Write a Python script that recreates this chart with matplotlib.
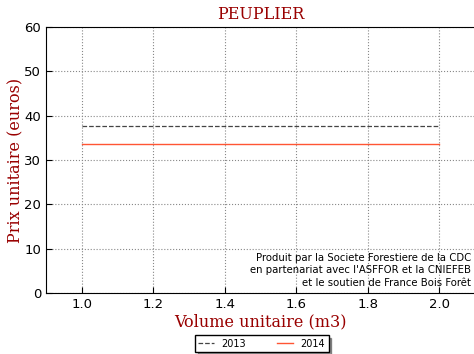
import matplotlib
matplotlib.use("Agg")
import matplotlib.pyplot as plt

volumes = [1.0, 2.0]
prix_2013 = [37.6, 37.6]
prix_2014 = [33.5, 33.5]
annees = ["2013", "2014"]

red = "#990000"

fig = plt.figure(figsize=(4.74, 3.54), dpi=100)
ax = fig.add_axes([0.097, 0.172, 0.905, 0.752])

ax.plot(volumes, prix_2013, linestyle="--", color="#444444", linewidth=0.9, label=annees[0])
ax.plot(volumes, prix_2014, linestyle="-", color="#ff5533", linewidth=1.0, label=annees[1])

ax.set_xlim(0.9, 2.1)
ax.set_ylim(0, 60)
ax.set_xticks([1.0, 1.2, 1.4, 1.6, 1.8, 2.0])
ax.set_yticks(range(0, 61, 10))
ax.grid(True, linestyle=":", color="#888888", linewidth=0.8)
ax.tick_params(labelsize=9.5, direction="in", length=4)

ax.set_title("PEUPLIER", family="serif", color=red, fontsize=11.5)
ax.set_xlabel("Volume unitaire (m3)", family="serif", color=red, fontsize=11.5, labelpad=2)
ax.set_ylabel("Prix unitaire (euros)", family="serif", color=red, fontsize=11.5)
ax.yaxis.set_label_coords(-0.05, 0.5)

ax.text(2.09, 1.2, "Produit par la Societe Forestiere de la CDC\n"
        "en partenariat avec l'ASFFOR et la CNIEFEB\n"
        "et le soutien de France Bois Forêt",
        ha="right", va="bottom", fontsize=7.3, linespacing=1.3)

leg = fig.legend(loc="lower center", bbox_to_anchor=(0.552, -0.008), ncol=2,
                 fontsize=7, shadow={"color": "0.3", "alpha": 0.6}, fancybox=False,
                 handlelength=1.6, columnspacing=3.2, borderpad=0.35, framealpha=1)
leg.get_frame().set_edgecolor("black")

fig.savefig("out.png", dpi=100)
